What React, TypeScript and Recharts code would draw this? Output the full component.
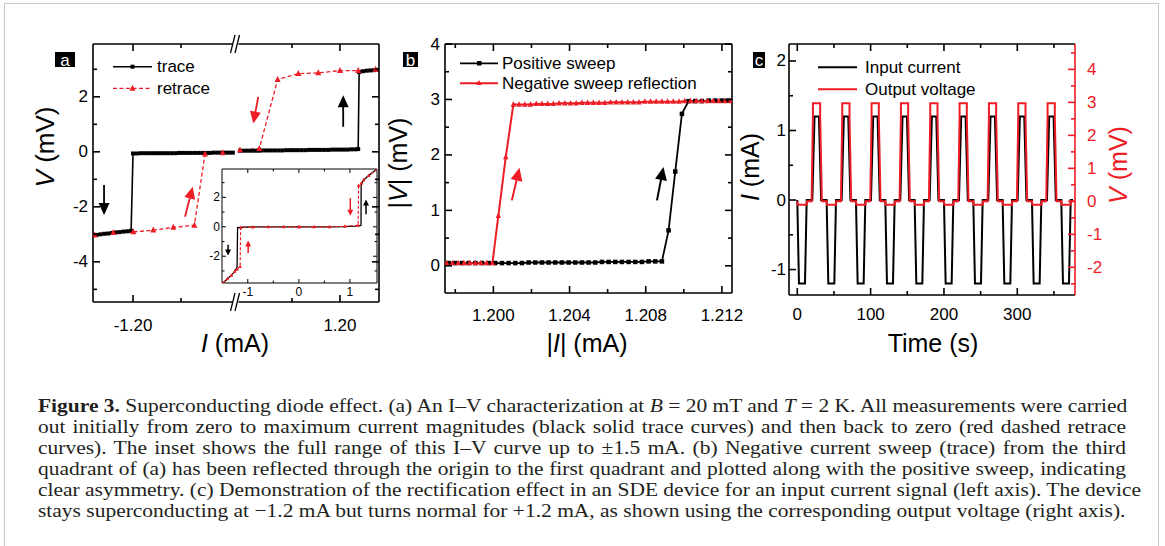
import React from "react";
import { LineChart, Line, XAxis, YAxis, ReferenceLine, ReferenceDot } from "recharts";

const RED = "#ee1c24";
const SANS = "'Liberation Sans', Arial, Helvetica, sans-serif";
const SERIF = "'Liberation Serif', 'Times New Roman', serif";
const W = 1165;
const H = 546;

// ---------- (a) trace / retrace near the switching currents (current in mA, voltage in mV) ----------
const aTraceNegI = [
  -1.096, -1.1, -1.104, -1.108, -1.112, -1.116, -1.12, -1.124, -1.128, -1.132, -1.136, -1.14, -1.144, -1.148,
  -1.152, -1.156, -1.16, -1.164, -1.168, -1.172, -1.176, -1.18, -1.184, -1.188, -1.192, -1.196, -1.2,
  -1.202, -1.206, -1.21, -1.214, -1.218, -1.222, -1.226, -1.23, -1.234, -1.238, -1.242,
];
const aTraceNegV = [
  -0.03, -0.03, -0.03, -0.03, -0.03, -0.03, -0.04, -0.04, -0.04, -0.04, -0.04, -0.04, -0.04, -0.04,
  -0.04, -0.05, -0.05, -0.05, -0.05, -0.05, -0.05, -0.05, -0.05, -0.05, -0.05, -0.06, -0.06,
  -2.87, -2.89, -2.9, -2.92, -2.93, -2.95, -2.97, -2.98, -3.0, -3.02, -3.04,
];
const aTracePosI = [
  1.096, 1.1, 1.104, 1.108, 1.112, 1.116, 1.12, 1.124, 1.128, 1.132, 1.136, 1.14, 1.144, 1.148, 1.152, 1.156,
  1.16, 1.164, 1.168, 1.172, 1.176, 1.18, 1.184, 1.188, 1.192, 1.196, 1.2, 1.204, 1.208, 1.212, 1.216,
  1.219, 1.22, 1.224, 1.228, 1.232, 1.236, 1.24,
];
const aTracePosV = [
  0.04, 0.04, 0.04, 0.04, 0.04, 0.04, 0.05, 0.05, 0.05, 0.05, 0.05, 0.05, 0.06, 0.06, 0.06, 0.06,
  0.06, 0.06, 0.07, 0.07, 0.07, 0.07, 0.07, 0.07, 0.08, 0.08, 0.08, 0.08, 0.08, 0.09, 0.09,
  0.1, 2.9, 2.93, 2.95, 2.96, 2.97, 2.98,
];
const aRetraceNegI = [-1.24, -1.2205, -1.1997, -1.1789, -1.158, -1.1361, -1.125, -1.1066];
const aRetraceNegV = [-3.03, -2.94, -2.91, -2.85, -2.75, -2.67, -0.08, -0.04];
const aRetracePosI = [1.2372, 1.2191, 1.2, 1.1774, 1.1566, 1.1351, 1.116, 1.0958];
const aRetracePosV = [3.0, 2.95, 2.95, 2.87, 2.84, 2.63, 0.12, 0.06];
const aYTicks = [-5, -4, -3, -2, -1, 0, 1, 2, 3];
const aYLabels = [-4, -2, 0, 2];
const aXTicksReal = [-1.2, -1.15, 1.15, 1.2];
const aXLabelsReal = [-1.2, 1.2];

// ---------- (a) inset, full range ----------
const insTraceNegI = [0, -0.3, -0.6, -0.9, -1.1, -1.2, -1.21, -1.255, -1.32, -1.4, -1.485];
const insTraceNegV = [0, 0, 0, -0.01, -0.03, -0.05, -2.75, -3.03, -3.3, -3.53, -3.82];
const insTracePosI = [0, 0.3, 0.6, 0.9, 1.1, 1.217, 1.22, 1.268, 1.367, 1.53];
const insTracePosV = [0, 0, 0, 0.01, 0.05, 0.09, 2.85, 3.19, 3.48, 3.93];
const insRetraceNegI = [-1.485, -1.4, -1.32, -1.255, -1.21, -1.15, -1.14, -0.9, -0.6, -0.3, 0];
const insRetraceNegV = [-3.82, -3.53, -3.3, -3.03, -2.9, -2.7, -0.05, -0.02, 0, 0, 0];
const insRetracePosI = [1.53, 1.367, 1.268, 1.22, 1.17, 1.16, 0.9, 0.6, 0.3, 0];
const insRetracePosV = [3.93, 3.48, 3.19, 2.95, 2.8, 0.1, 0.03, 0, 0, 0];
const insXTicks = [-1, -0.5, 0, 0.5, 1];
const insXLabels = [-1, 0, 1];
const insYTicks = [-3, -2, -1, 0, 1, 2, 3];
const insYLabels = [-2, 0, 2];

// ---------- (b) |V| vs |I| ----------
const bPosI = [
  1.19765, 1.198, 1.19835, 1.1987, 1.19905, 1.1994, 1.19975, 1.2001, 1.20045, 1.2008, 1.20115, 1.2015,
  1.20185, 1.2022, 1.20255, 1.2029, 1.20325, 1.2036, 1.20395, 1.2043, 1.20465, 1.205, 1.20535, 1.2057,
  1.20605, 1.2064, 1.20675, 1.2071, 1.20745, 1.2078, 1.20815, 1.2085, 1.20885,
  1.2092, 1.20955, 1.2099, 1.21025, 1.2106, 1.21095, 1.2113, 1.21165, 1.212, 1.21235,
];
const bPosV = [
  0.05, 0.05, 0.05, 0.05, 0.05, 0.05, 0.05, 0.05, 0.05, 0.05, 0.05, 0.05,
  0.06, 0.06, 0.06, 0.06, 0.06, 0.06, 0.06, 0.06, 0.06, 0.06, 0.06, 0.07,
  0.07, 0.07, 0.07, 0.07, 0.07, 0.07, 0.08, 0.08, 0.08,
  0.64, 1.7, 2.74, 2.97, 2.97, 2.97, 2.98, 2.98, 2.98, 2.98,
];
const bNegI = [
  1.19755, 1.19785, 1.19815, 1.19845, 1.19875, 1.19905, 1.19935, 1.19965, 1.19995,
  1.20026, 1.20065, 1.20105,
  1.20135, 1.20165, 1.20195, 1.20225, 1.20255, 1.20285, 1.20315, 1.20345, 1.20375, 1.20405, 1.20435,
  1.20465, 1.20495, 1.20525, 1.20555, 1.20585, 1.20615, 1.20645, 1.20675, 1.20705, 1.20735, 1.20765,
  1.20795, 1.20825, 1.20855, 1.20885, 1.20915, 1.20945, 1.20975, 1.21005, 1.21035, 1.21065, 1.21095,
  1.21125, 1.21155, 1.21185, 1.21215, 1.21245,
];
const bNegV = [
  0.05, 0.05, 0.05, 0.05, 0.05, 0.05, 0.05, 0.05, 0.05,
  0.9, 1.96, 2.91,
  2.91, 2.91, 2.91, 2.92, 2.92, 2.92, 2.92, 2.93, 2.93, 2.93, 2.93,
  2.94, 2.94, 2.94, 2.94, 2.94, 2.95, 2.95, 2.95, 2.95, 2.95, 2.95,
  2.96, 2.96, 2.96, 2.96, 2.96, 2.96, 2.96, 2.97, 2.97, 2.97, 2.97,
  2.97, 2.97, 2.97, 2.97, 2.97,
];
const bXTicks = [1.198, 1.2, 1.202, 1.204, 1.206, 1.208, 1.21, 1.212];
const bXLabels = [1.2, 1.204, 1.208, 1.212];
const bYTicks = [0, 0.5, 1, 1.5, 2, 2.5, 3, 3.5, 4];
const bYLabels = [0, 1, 2, 3, 4];

// ---------- (c) rectification in time (s) ----------
const cTimeI = [
  0, 2.3, 10.5, 12.8, 20.5, 23.5, 29.5, 32.5,
  40, 42.3, 50.5, 52.8, 60.5, 63.5, 69.5, 72.5,
  80, 82.3, 90.5, 92.8, 100.5, 103.5, 109.5, 112.5,
  120, 122.3, 130.5, 132.8, 140.5, 143.5, 149.5, 152.5,
  160, 162.3, 170.5, 172.8, 180.5, 183.5, 189.5, 192.5,
  200, 202.3, 210.5, 212.8, 220.5, 223.5, 229.5, 232.5,
  240, 242.3, 250.5, 252.8, 260.5, 263.5, 269.5, 272.5,
  280, 282.3, 290.5, 292.8, 300.5, 303.5, 309.5, 312.5,
  320, 322.3, 330.5, 332.8, 340.5, 343.5, 349.5, 352.5,
  360, 362.3, 370.5, 372.8, 376,
];
const cCurrent = [
  0, -1.2, -1.2, 0, 0, 1.2, 1.2, 0,
  0, -1.2, -1.2, 0, 0, 1.2, 1.2, 0,
  0, -1.2, -1.2, 0, 0, 1.2, 1.2, 0,
  0, -1.2, -1.2, 0, 0, 1.2, 1.2, 0,
  0, -1.2, -1.2, 0, 0, 1.2, 1.2, 0,
  0, -1.2, -1.2, 0, 0, 1.2, 1.2, 0,
  0, -1.2, -1.2, 0, 0, 1.2, 1.2, 0,
  0, -1.2, -1.2, 0, 0, 1.2, 1.2, 0,
  0, -1.2, -1.2, 0, 0, 1.2, 1.2, 0,
  0, -1.2, -1.2, 0, 0,
];
const cTimeV = [
  0, 0.5, 12.8, 13.3, 19.5, 21.3, 21.3, 31.2, 31.2, 33.5,
  40, 40.5, 52.8, 53.3, 59.5, 61.3, 61.3, 71.2, 71.2, 73.5,
  80, 80.5, 92.8, 93.3, 99.5, 101.3, 101.3, 111.2, 111.2, 113.5,
  120, 120.5, 132.8, 133.3, 139.5, 141.3, 141.3, 151.2, 151.2, 153.5,
  160, 160.5, 172.8, 173.3, 179.5, 181.3, 181.3, 191.2, 191.2, 193.5,
  200, 200.5, 212.8, 213.3, 219.5, 221.3, 221.3, 231.2, 231.2, 233.5,
  240, 240.5, 252.8, 253.3, 259.5, 261.3, 261.3, 271.2, 271.2, 273.5,
  280, 280.5, 292.8, 293.3, 299.5, 301.3, 301.3, 311.2, 311.2, 313.5,
  320, 320.5, 332.8, 333.3, 339.5, 341.3, 341.3, 351.2, 351.2, 353.5,
  360, 360.5, 372.8, 373.3, 378,
];
const cVoltage = [
  0, -0.1, -0.1, 0, 0, 2.55, 2.97, 2.97, 2.55, 0,
  0, -0.1, -0.1, 0, 0, 2.55, 2.97, 2.97, 2.55, 0,
  0, -0.1, -0.1, 0, 0, 2.55, 2.97, 2.97, 2.55, 0,
  0, -0.1, -0.1, 0, 0, 2.55, 2.97, 2.97, 2.55, 0,
  0, -0.1, -0.1, 0, 0, 2.55, 2.97, 2.97, 2.55, 0,
  0, -0.1, -0.1, 0, 0, 2.55, 2.97, 2.97, 2.55, 0,
  0, -0.1, -0.1, 0, 0, 2.55, 2.97, 2.97, 2.55, 0,
  0, -0.1, -0.1, 0, 0, 2.55, 2.97, 2.97, 2.55, 0,
  0, -0.1, -0.1, 0, 0, 2.55, 2.97, 2.97, 2.55, 0,
  0, -0.1, -0.1, 0, 0,
];
const cXTicks = [0, 50, 100, 150, 200, 250, 300, 350];
const cXLabels = [0, 100, 200, 300];
const cLTicks = [-1, -0.5, 0, 0.5, 1, 1.5, 2];
const cLLabels = [-1, 0, 1, 2];
const cRTicks = [-2.5, -2, -1.5, -1, -0.5, 0, 0.5, 1, 1.5, 2, 2.5, 3, 3.5, 4, 4.5];
const cRLabels = [-2, -1, 0, 1, 2, 3, 4];

// annotation arrows, [I, V] from -> to
type Arrow = { from: [number, number]; to: [number, number]; color: string };
const aArrows: Arrow[] = [
  { from: [-1.2302, -1.21], to: [-1.2302, -2.3], color: "#000" },
  { from: [-1.1458, -2.36], to: [-1.1378, -1.27], color: RED },
  { from: [1.1149, 2.0], to: [1.1097, 1.03], color: RED },
  { from: [1.2034, 0.91], to: [1.2034, 2.06], color: "#000" },
];
const insArrows: Arrow[] = [
  { from: [-1.386, -1.22], to: [-1.386, -1.95], color: "#000" },
  { from: [-0.993, -1.78], to: [-0.993, -0.93], color: RED },
  { from: [1.007, 1.95], to: [1.007, 0.75], color: RED },
  { from: [1.315, 0.86], to: [1.315, 1.85], color: "#000" },
];
const bArrows: Arrow[] = [
  { from: [1.20097, 1.18], to: [1.20137, 1.77], color: RED },
  { from: [1.20859, 1.18], to: [1.20893, 1.78], color: "#000" },
];

// broken current axis of (a): both branches are measured from their +-1.20 mA tick
const A_REF = 1.2;
const A_GAP = 0.2156;
const A_BREAK = 0.1068;
const brk = (i: number) => (i < 0 ? i + A_REF : i - A_REF + A_GAP);
const unbrk = (d: number) => (d < A_GAP / 2 ? d - A_REF : d + A_REF - A_GAP);

const pts = (xs: number[], ys: number[], f: (v: number) => number = (v) => v) =>
  xs.map((x, k) => ({ x: f(x), y: ys[k] }));

type Side = "left" | "right" | "top" | "bottom";
type TickOpt = {
  side: Side;
  major: number[];
  labels?: number[];
  fmt?: (v: number) => string;
  fs?: number;
  off?: number;
  color?: string;
  big?: number;
  small?: number;
  sw?: number;
};
const hasV = (arr: number[] | undefined, v: number) => !!arr && arr.some((a) => Math.abs(a - v) < 1e-7);

const tickFn = (o: TickOpt) => (p: any) => {
  const v: number = p.payload.value;
  const x: number = p.x;
  const y: number = p.y;
  const col = o.color ?? "#000";
  const len = hasV(o.major, v) ? o.big ?? 7 : o.small ?? 4;
  const off = o.off ?? 5;
  const txt = hasV(o.labels, v) ? (o.fmt ? o.fmt(v) : String(v)) : null;
  const tp = { fill: col, fontSize: o.fs ?? 17, fontFamily: SANS, dominantBaseline: "central" as const };
  let ln: number[];
  let label: React.ReactNode = null;
  if (o.side === "left") {
    ln = [x, y, x + len, y];
    if (txt) label = <text {...tp} x={x - off} y={y} textAnchor="end">{txt}</text>;
  } else if (o.side === "right") {
    ln = [x, y, x - len, y];
    if (txt) label = <text {...tp} x={x + off} y={y} textAnchor="start">{txt}</text>;
  } else if (o.side === "top") {
    ln = [x, y, x, y + len];
    if (txt) label = <text {...tp} x={x} y={y - off} textAnchor="middle">{txt}</text>;
  } else {
    ln = [x, y, x, y - len];
    if (txt) label = <text {...tp} x={x} y={y + off} textAnchor="middle">{txt}</text>;
  }
  return (
    <g>
      <line x1={ln[0]} y1={ln[1]} x2={ln[2]} y2={ln[3]} stroke={col} strokeWidth={o.sw ?? 1.5} />
      {label}
    </g>
  );
};

type BoxOpt = {
  xDom: [number, number];
  yDom: [number, number];
  xTicks: number[];
  xMajor: number[];
  xLabels: number[];
  xFmt?: (v: number) => string;
  yTicks: number[];
  yMajor: number[];
  yLabels: number[];
  fs: number;
  xOff: number;
  yOff: number;
  big: number;
  small: number;
  sw: number;
  rightY?: boolean;
};

// four axes forming the frame, ticks pointing inwards
const boxAxes = (o: BoxOpt) => {
  const line = { stroke: "#000", strokeWidth: o.sw };
  const common = { tickSize: 0, tickMargin: 0, tickLine: false, interval: 0 as const, allowDataOverflow: true, axisLine: line };
  const t = { big: o.big, small: o.small, sw: o.sw, fs: o.fs };
  const out = [
    <XAxis key="xb" xAxisId="b" type="number" dataKey="x" domain={o.xDom} ticks={o.xTicks} height={30} {...common}
      tick={tickFn({ side: "bottom", major: o.xMajor, labels: o.xLabels, fmt: o.xFmt, off: o.xOff, ...t })} />,
    <XAxis key="xt" xAxisId="t" orientation="top" type="number" dataKey="x" domain={o.xDom} ticks={o.xTicks} height={10} {...common}
      tick={tickFn({ side: "top", major: o.xMajor, ...t })} />,
    <YAxis key="yl" yAxisId="l" type="number" domain={o.yDom} ticks={o.yTicks} width={30} {...common}
      tick={tickFn({ side: "left", major: o.yMajor, labels: o.yLabels, off: o.yOff, ...t })} />,
  ];
  if (o.rightY !== false) {
    out.push(
      <YAxis key="yr" yAxisId="r" orientation="right" type="number" domain={o.yDom} ticks={o.yTicks} width={30} {...common}
        tick={tickFn({ side: "right", major: o.yMajor, ...t })} />
    );
  }
  return out;
};

const square = (s: number, fill: string) => (p: any) => (
  <rect key={`sq${p.index}`} x={p.cx - s / 2} y={p.cy - s / 2} width={s} height={s} fill={fill} />
);
const tri = (s: number, fill: string) => (p: any) => (
  <polygon
    key={`tr${p.index}`}
    points={`${p.cx},${p.cy - s * 0.6} ${p.cx - s / 2},${p.cy + s * 0.4} ${p.cx + s / 2},${p.cy + s * 0.4}`}
    fill={fill}
  />
);

const arrowShape = (col: string, head: number, hw: number, sw: number) => (p: any) => {
  const { x1, y1, x2, y2 } = p;
  const L = Math.hypot(x2 - x1, y2 - y1) || 1;
  const ux = (x2 - x1) / L;
  const uy = (y2 - y1) / L;
  const bx = x2 - ux * head;
  const by = y2 - uy * head;
  const nx = (-uy * hw) / 2;
  const ny = (ux * hw) / 2;
  return (
    <g>
      <line x1={x1} y1={y1} x2={bx + ux} y2={by + uy} stroke={col} strokeWidth={sw} />
      <polygon points={`${x2},${y2} ${bx + nx},${by + ny} ${bx - nx},${by - ny}`} fill={col} />
    </g>
  );
};

const arrows = (list: Arrow[], f: (v: number) => number, head: number, hw: number, sw: number) =>
  list.map((a, k) => (
    <ReferenceLine
      key={`ar${k}`}
      xAxisId="b"
      yAxisId="l"
      segment={[{ x: f(a.from[0]), y: a.from[1] }, { x: f(a.to[0]), y: a.to[1] }]}
      ifOverflow="visible"
      shape={arrowShape(a.color, head, hw, sw)}
    />
  ));

const breakMark = (p: any) => (
  <g>
    <rect x={p.cx - 3} y={p.cy - 2} width={6} height={4} fill="#fff" />
    <line x1={p.cx - 5} y1={p.cy + 9} x2={p.cx - 0.5} y2={p.cy - 9} stroke="#000" strokeWidth={1.3} />
    <line x1={p.cx - 0.5} y1={p.cy + 9} x2={p.cx + 4} y2={p.cy - 9} stroke="#000" strokeWidth={1.3} />
  </g>
);

const abs0: React.CSSProperties = { position: "absolute", left: 0, top: 0 };

const A_YDOM: [number, number] = [-5.46, 3.92];

const PanelA = () => (
  <div style={abs0}>
    <LineChart width={W} height={H} margin={{ left: 63, right: 756, top: 34, bottom: 214 }}>
      {boxAxes({
        xDom: [-0.0417, 0.2563],
        yDom: A_YDOM,
        xTicks: aXTicksReal.map(brk),
        xMajor: aXLabelsReal.map(brk),
        xLabels: aXLabelsReal.map(brk),
        xFmt: (d) => unbrk(d).toFixed(2),
        yTicks: aYTicks,
        yMajor: aYLabels,
        yLabels: aYLabels,
        fs: 17,
        xOff: 23,
        yOff: 5,
        big: 7,
        small: 4,
        sw: 1.6,
      })}
      <Line xAxisId="b" yAxisId="l" data={pts(aTraceNegI, aTraceNegV, brk)} dataKey="y" stroke="#000" strokeWidth={1.6}
        dot={square(4, "#000")} activeDot={false} isAnimationActive={false} />
      <Line xAxisId="b" yAxisId="l" data={pts(aTracePosI, aTracePosV, brk)} dataKey="y" stroke="#000" strokeWidth={1.6}
        dot={square(4, "#000")} activeDot={false} isAnimationActive={false} />
      <Line xAxisId="b" yAxisId="l" data={pts(aRetraceNegI, aRetraceNegV, brk)} dataKey="y" stroke={RED} strokeWidth={1.3}
        strokeDasharray="4 2.5" dot={tri(6, RED)} activeDot={false} isAnimationActive={false} />
      <Line xAxisId="b" yAxisId="l" data={pts(aRetracePosI, aRetracePosV, brk)} dataKey="y" stroke={RED} strokeWidth={1.3}
        strokeDasharray="4 2.5" dot={tri(6, RED)} activeDot={false} isAnimationActive={false} />
      {arrows(aArrows, brk, 12, 11, 1.8)}
      <ReferenceDot xAxisId="b" yAxisId="l" x={A_BREAK} y={A_YDOM[1]} ifOverflow="visible" shape={breakMark} />
      <ReferenceDot xAxisId="b" yAxisId="l" x={A_BREAK} y={A_YDOM[0]} ifOverflow="visible" shape={breakMark} />
    </LineChart>
  </div>
);

const Inset = () => (
  <div style={abs0}>
    <LineChart width={W} height={H} margin={{ left: 192, right: 758, top: 159, bottom: 233 }}>
      {boxAxes({
        xDom: [-1.505, 1.53],
        yDom: [-3.82, 3.93],
        xTicks: insXTicks,
        xMajor: insXLabels,
        xLabels: insXLabels,
        yTicks: insYTicks,
        yMajor: insYLabels,
        yLabels: insYLabels,
        fs: 12,
        xOff: 9,
        yOff: 2,
        big: 4,
        small: 2.5,
        sw: 1,
      })}
      <Line xAxisId="b" yAxisId="l" data={pts(insTraceNegI, insTraceNegV)} dataKey="y" stroke="#000" strokeWidth={1.3}
        dot={false} activeDot={false} isAnimationActive={false} />
      <Line xAxisId="b" yAxisId="l" data={pts(insTracePosI, insTracePosV)} dataKey="y" stroke="#000" strokeWidth={1.3}
        dot={false} activeDot={false} isAnimationActive={false} />
      <Line xAxisId="b" yAxisId="l" data={pts(insRetraceNegI, insRetraceNegV)} dataKey="y" stroke={RED} strokeWidth={1.2}
        strokeDasharray="3 2" dot={tri(3.5, RED)} activeDot={false} isAnimationActive={false} />
      <Line xAxisId="b" yAxisId="l" data={pts(insRetracePosI, insRetracePosV)} dataKey="y" stroke={RED} strokeWidth={1.2}
        strokeDasharray="3 2" dot={tri(3.5, RED)} activeDot={false} isAnimationActive={false} />
      {arrows(insArrows, (v) => v, 6, 6, 1.5)}
    </LineChart>
  </div>
);

const PanelB = () => (
  <div style={abs0}>
    <LineChart width={W} height={H} margin={{ left: 415, right: 403, top: 34, bottom: 223 }}>
      {boxAxes({
        xDom: [1.19746, 1.21253],
        yDom: [-0.49, 4.0],
        xTicks: bXTicks,
        xMajor: bXLabels,
        xLabels: bXLabels,
        xFmt: (v) => v.toFixed(3),
        yTicks: bYTicks,
        yMajor: bYLabels,
        yLabels: bYLabels,
        fs: 17,
        xOff: 22,
        yOff: 5,
        big: 7,
        small: 4,
        sw: 1.6,
      })}
      <Line xAxisId="b" yAxisId="l" data={pts(bPosI, bPosV)} dataKey="y" stroke="#000" strokeWidth={1.8}
        dot={square(4.5, "#000")} activeDot={false} isAnimationActive={false} />
      <Line xAxisId="b" yAxisId="l" data={pts(bNegI, bNegV)} dataKey="y" stroke={RED} strokeWidth={2}
        dot={tri(5.5, RED)} activeDot={false} isAnimationActive={false} />
      {arrows(bArrows, (v) => v, 13, 12, 2)}
    </LineChart>
  </div>
);

const PanelC = () => {
  const common = { tickSize: 0, tickMargin: 0, tickLine: false, interval: 0 as const, allowDataOverflow: true };
  return (
    <div style={abs0}>
      <LineChart width={W} height={H} margin={{ left: 759, right: 60, top: 34, bottom: 221 }}>
        {boxAxes({
          xDom: [-11.3, 378.7],
          yDom: [-1.366, 2.244],
          xTicks: cXTicks,
          xMajor: cXLabels,
          xLabels: cXLabels,
          yTicks: cLTicks,
          yMajor: cLLabels,
          yLabels: cLLabels,
          fs: 17,
          xOff: 19,
          yOff: 3,
          big: 7,
          small: 4,
          sw: 1.6,
          rightY: false,
        })}
        <YAxis yAxisId="r" orientation="right" type="number" domain={[-2.84, 4.77]} ticks={cRTicks} width={30} {...common}
          axisLine={{ stroke: RED, strokeWidth: 1.6 }}
          tick={tickFn({ side: "right", major: cRLabels, labels: cRLabels, off: 12, color: RED, fs: 17, big: 7, small: 4, sw: 1.6 })} />
        <Line xAxisId="b" yAxisId="l" data={pts(cTimeI, cCurrent)} dataKey="y" stroke="#000" strokeWidth={2}
          dot={false} activeDot={false} isAnimationActive={false} />
        <Line xAxisId="b" yAxisId="r" data={pts(cTimeV, cVoltage)} dataKey="y" stroke={RED} strokeWidth={2}
          dot={false} activeDot={false} isAnimationActive={false} />
      </LineChart>
    </div>
  );
};

const Tag = ({ x, y, w, h, t }: { x: number; y: number; w: number; h: number; t: string }) => (
  <g>
    <rect x={x} y={y} width={w} height={h} fill="#000" />
    <text x={x + w / 2} y={y + h / 2 + 0.5} fill="#fff" fontSize={17} textAnchor="middle" dominantBaseline="central">{t}</text>
  </g>
);

const Overlay = () => (
  <svg width={W} height={H} style={abs0} fontFamily={SANS}>
    <Tag x={55} y={52} w={20} h={15} t="a" />
    <Tag x={403} y={52} w={15} h={15} t="b" />
    <Tag x={753} y={52} w={12} h={16} t="c" />

    {/* legend (a) */}
    <line x1={113} y1={66.7} x2={152} y2={66.7} stroke="#000" strokeWidth={1.6} />
    <rect x={130.5} y={64.7} width={4} height={4} fill="#000" />
    <text x={157} y={66.7} fontSize={17} dominantBaseline="central">trace</text>
    <line x1={113} y1={88.3} x2={152} y2={88.3} stroke={RED} strokeWidth={1.3} strokeDasharray="4 2.5" />
    <polygon points="132.5,84.7 129.5,90.7 135.5,90.7" fill={RED} />
    <text x={157} y={88.3} fontSize={17} dominantBaseline="central">retrace</text>

    {/* legend (b) */}
    <line x1={460} y1={63.3} x2={498} y2={63.3} stroke="#000" strokeWidth={1.8} />
    <rect x={477} y={61} width={4.5} height={4.5} fill="#000" />
    <text x={502} y={63.3} fontSize={17} dominantBaseline="central">Positive sweep</text>
    <line x1={460} y1={83.3} x2={498} y2={83.3} stroke={RED} strokeWidth={2} />
    <polygon points="479,80 476.2,85 481.8,85" fill={RED} />
    <text x={502} y={83.3} fontSize={17} dominantBaseline="central">Negative sweep reflection</text>

    {/* legend (c) */}
    <line x1={818} y1={67.3} x2={857} y2={67.3} stroke="#000" strokeWidth={2} />
    <text x={865} y={67.3} fontSize={17} dominantBaseline="central">Input current</text>
    <line x1={818} y1={89.3} x2={857} y2={89.3} stroke={RED} strokeWidth={2} />
    <text x={865} y={89.3} fontSize={17} dominantBaseline="central">Output voltage</text>

    {/* axis titles */}
    <text transform="translate(45,147) rotate(-90)" fontSize={26} textAnchor="middle" dominantBaseline="central">
      <tspan fontStyle="italic">V</tspan> (mV)
    </text>
    <text x={235} y={343} fontSize={25} textAnchor="middle" dominantBaseline="central">
      <tspan fontStyle="italic">I</tspan> (mA)
    </text>
    <text transform="translate(398,163) rotate(-90)" fontSize={25} textAnchor="middle" dominantBaseline="central">
      |<tspan fontStyle="italic">V</tspan>| (mV)
    </text>
    <text x={587} y={343} fontSize={25} textAnchor="middle" dominantBaseline="central">
      |<tspan fontStyle="italic">I</tspan>| (mA)
    </text>
    <text transform="translate(750,167) rotate(-90)" fontSize={25} textAnchor="middle" dominantBaseline="central">
      <tspan fontStyle="italic">I</tspan> (mA)
    </text>
    <text transform="translate(1118,165) rotate(-90)" fontSize={25} fill={RED} textAnchor="middle" dominantBaseline="central">
      <tspan fontStyle="italic">V</tspan> (mV)
    </text>
    <text x={933} y={343} fontSize={25} textAnchor="middle" dominantBaseline="central">Time (s)</text>
  </svg>
);

const captionLines: React.ReactNode[] = [
  <>
    <b>Figure 3.</b> Superconducting diode effect. (a) An I–V characterization at <i>B</i> = 20 mT and <i>T</i> = 2 K. All
    measurements were carried
  </>,
  <>out initially from zero to maximum current magnitudes (black solid trace curves) and then back to zero (red dashed retrace</>,
  <>curves). The inset shows the full range of this I–V curve up to ±1.5 mA. (b) Negative current sweep (trace) from the third</>,
  <>quadrant of (a) has been reflected through the origin to the first quadrant and plotted along with the positive sweep, indicating</>,
  <>clear asymmetry. (c) Demonstration of the rectification effect in an SDE device for an input current signal (left axis). The device</>,
  <>stays superconducting at −1.2 mA but turns normal for +1.2 mA, as shown using the corresponding output voltage (right axis).</>,
];

// the journal face is wider than Liberation Serif: keep the line boxes at 19px and stretch horizontally
const CAP_STRETCH = 1.13;

const Caption = () => (
  <div
    style={{
      position: "absolute",
      left: 38,
      top: 394.7,
      width: 1088 / CAP_STRETCH,
      transform: `scaleX(${CAP_STRETCH})`,
      transformOrigin: "0 0",
      fontFamily: SERIF,
      fontSize: 19,
      lineHeight: "21.1px",
      color: "#231f20",
    }}
  >
    {captionLines.map((l, k) => (
      <div key={k} style={{ whiteSpace: "nowrap", textAlign: "justify", textAlignLast: k < 5 ? "justify" : "left" }}>
        {l}
      </div>
    ))}
  </div>
);

export default function App() {
  return (
    <div style={{ position: "absolute", left: 0, top: 0, width: W, height: H, overflow: "hidden", background: "#fff" }}>
      <div style={{ position: "absolute", left: 4, top: 3, width: 1153, height: 600, border: "1.5px solid #c8c8c8" }} />
      <PanelA />
      <Inset />
      <PanelB />
      <PanelC />
      <Overlay />
      <Caption />
    </div>
  );
}
